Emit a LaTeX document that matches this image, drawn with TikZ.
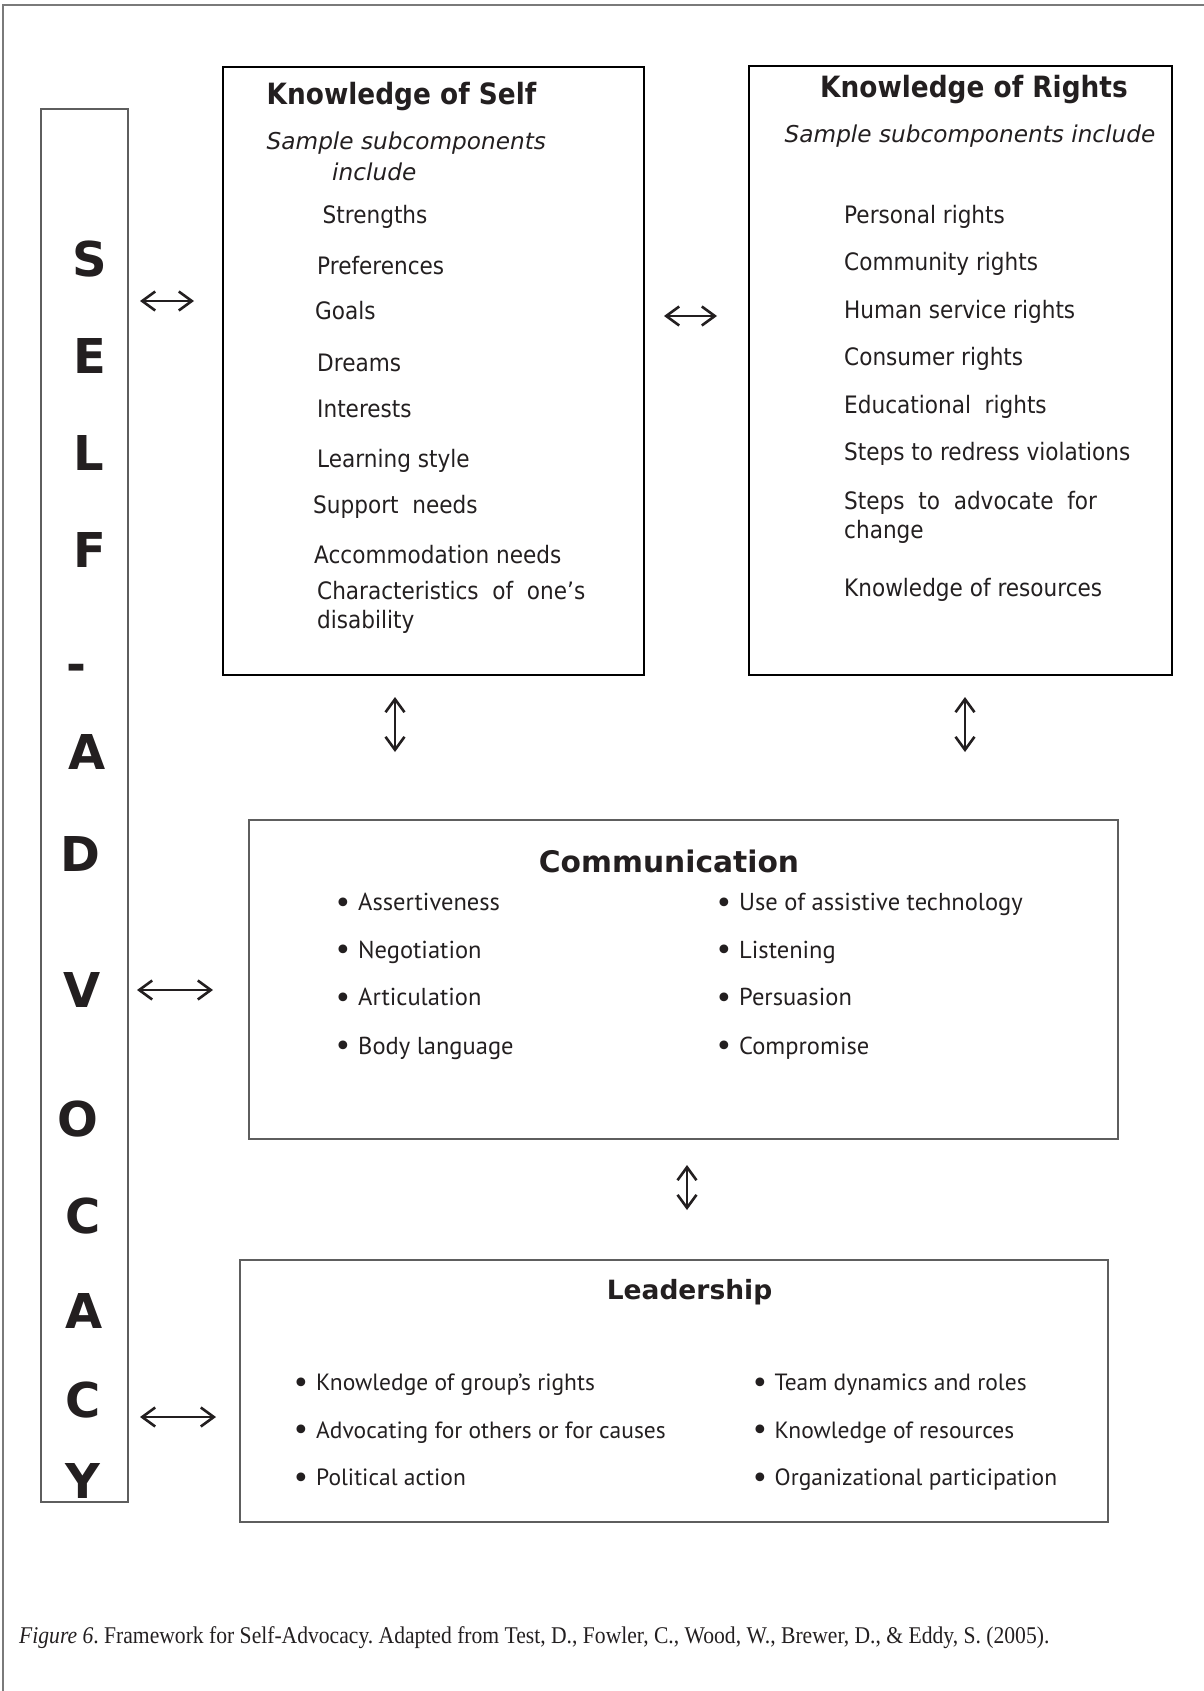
\documentclass[tikz,border=0pt]{standalone}
\usepackage{fontspec}
\usetikzlibrary{arrows.meta}
\setmainfont{DejaVu Sans}
\newfontfamily\condfont{DejaVu Sans}[FakeStretch=0.9]
\newfontfamily\listfont{PT Sans}
\newfontfamily\capfont{Liberation Serif}[FakeStretch=0.9]
\newcommand\bul{\llap{\raisebox{-2.5pt}{\normalfont\fontsize{30}{30}\selectfont •}\hspace{6pt}}}

\begin{document}
\begin{tikzpicture}[x=1pt, y=-1pt,
    frame/.style={draw=frameColour, line width=1.4pt},
    kbox/.style={draw=black, line width=2pt, inner sep=0pt},
    gbox/.style={draw=boxColour, line width=1.3pt, inner sep=0pt},
    letter/.style={inner sep=0pt, text=inkColour, text height=35pt, text depth=0pt, font=\fontsize{48}{48}\selectfont\bfseries},
    khead/.style={anchor=west, inner sep=0pt, text=inkColour, text height=22pt, text depth=0pt, font=\condfont\fontsize{29.3}{30}\selectfont\bfseries},
    chead/.style={inner sep=0pt, text=inkColour, text height=22pt, text depth=0pt, font=\fontsize{29.7}{30}\selectfont\bfseries},
    lhead/.style={inner sep=0pt, text=inkColour, text height=20pt, text depth=0pt, font=\fontsize{26.5}{30}\selectfont\bfseries},
    sub/.style={anchor=west, inner sep=0pt, text=inkColour, text height=17pt, text depth=0pt, font=\fontsize{23.2}{26}\selectfont\itshape},
    item/.style={anchor=west, inner sep=0pt, text=inkColour, text height=17.5pt, text depth=0pt, font=\condfont\fontsize{24}{28}\selectfont},
    point/.style={anchor=west, inner sep=0pt, text=inkColour, text height=17pt, text depth=0pt, font=\listfont\fontsize{24.5}{28}\selectfont},
    lpoint/.style={point, font=\listfont\fontsize{23.5}{28}\selectfont},
    dbl/.style={{Straight Barb[length=13pt,width=19pt]}-{Straight Barb[length=13pt,width=19pt]}, line width=2.6pt, draw=inkColour}]

    \definecolor{inkColour}{HTML}{231F20}
    \definecolor{boxColour}{HTML}{5E5E5E}
    \definecolor{frameColour}{HTML}{7A7A7A}

    \useasboundingbox (0,0) rectangle (1204,1691);

    % Page frame
    \draw[frame] (3,1691) -- (3,5) -- (1204,5);

    % Boxes
    \node[gbox, minimum width=87pt, minimum height=1393pt] (col) at (84.5,805.5) {};
    \node[kbox, minimum width=421pt, minimum height=608pt] (kself) at (433.5,371) {};
    \node[kbox, minimum width=423pt, minimum height=609pt] (krights) at (960.5,370.5) {};
    \node[gbox, minimum width=869pt, minimum height=319pt] (comm) at (683.5,979.5) {};
    \node[gbox, minimum width=868pt, minimum height=262pt] (lead) at (674,1391) {};

    % SELF-ADVOCACY down the column
    \foreach \ch/\x/\y [count=\i] in {S/89.5/259, E/89.5/356, L/88.5/453, F/89.5/550, -/76.5/664,
        A/87.5/752, D/80/854, V/82/990, O/77.5/1119, C/83/1216, A/84/1311, C/83/1400, Y/83/1481}
        \node[letter] (ltr\i) at (\x,\y) {\ch};

    % Knowledge of Self
    \node[khead] (selfTitle) at (266.5,94) {Knowledge of Self};
    \node[sub] (selfSub) at (266.5,141) {Sample subcomponents};
    \node[sub] (selfSubB) at (332,171.5) {include};
    \foreach \txt/\x/\y [count=\i] in {Strengths/322.5/214.5, Preferences/317/265.5, Goals/315/310.5,
        Dreams/317/362.5, Interests/317/409, Learning style/317/458.5, {Support\ \ needs}/313/505,
        Accommodation needs/314/554.5, {Characteristics\ \ of\ \ one’s}/317/591, disability/317/620}
        \node[item] (self\i) at (\x,\y) {\txt};

    % Knowledge of Rights
    \node[khead] (rightsTitle) at (820,87) {Knowledge of Rights};
    \node[sub] (rightsSub) at (784.5,134) {Sample subcomponents include};
    \foreach \txt/\y [count=\i] in {Personal rights/214.5, Community rights/262, Human service rights/309.5,
        Consumer rights/357, {Educational\ \ rights}/404.5, Steps to redress violations/452,
        {Steps\ \ to\ \ advocate\ \ for}/500.5, change/529.5, Knowledge of resources/588}
        \node[item] (rights\i) at (844,\y) {\txt};

    % Communication
    \node[chead] (commTitle) at (669,861) {Communication};
    \foreach \txt/\x/\y [count=\i] in {Assertiveness/358/902, Negotiation/358/949.5, Articulation/358/997,
        Body language/358/1045.5, Use of assistive technology/739/902, Listening/739/949.5,
        Persuasion/739/997, Compromise/739/1045.5}
        \node[point] (comm\i) at (\x,\y) {\bul\txt};

    % Leadership
    \node[lhead] (leadTitle) at (689.5,1289) {Leadership};
    \foreach \txt/\x/\y [count=\i] in {Knowledge of group’s rights/316/1382, Advocating for others or for causes/316/1429.5,
        Political action/316/1477, Team dynamics and roles/774.5/1382, Knowledge of resources/774.5/1429.5,
        Organizational participation/774.5/1477}
        \node[lpoint] (lead\i) at (\x,\y) {\bul\txt};

    % Double arrows between the parts
    \foreach \n/\ax/\ay/\bx/\by in {a/140/301/194/301, b/664/316/717/316, c/395/697/395/752, d/965/697/965/752,
        e/137/990/213/990, f/687/1165/687/1210, g/140/1417/216/1417} {
        \coordinate (\n1) at (\ax,\ay);
        \coordinate (\n2) at (\bx,\by);
        \draw[dbl] (\n1) -- (\n2);
    }

    % Caption
    \node[anchor=base west, inner sep=0pt, text=inkColour, font=\capfont\fontsize{24}{28}\selectfont\frenchspacing] (caption) at (19,1643)
        {\textit{Figure 6}. Framework for Self-Advocacy. Adapted from Test, D., Fowler, C., Wood, W., Brewer, D., \& Eddy, S. (2005).};

\end{tikzpicture}
\end{document}
